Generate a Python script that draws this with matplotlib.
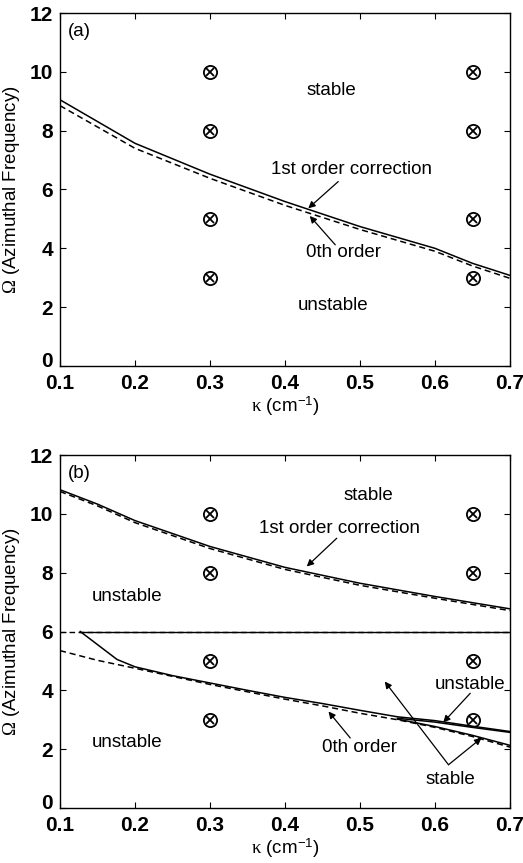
import matplotlib
matplotlib.use("Agg")
import matplotlib.pyplot as plt
import matplotlib.transforms as mtransforms

plt.rcParams['font.family'] = ['Liberation Sans', 'DejaVu Sans']
plt.rcParams['mathtext.fontset'] = 'custom'
plt.rcParams['mathtext.rm'] = 'Liberation Serif'
plt.rcParams['mathtext.it'] = 'Liberation Serif'
plt.rcParams['mathtext.sf'] = 'Liberation Sans'
plt.rcParams['mathtext.bf'] = 'Liberation Sans:bold'

# ---- data: panel (a) ----
xa = [0.1, 0.2, 0.3, 0.4, 0.5, 0.6, 0.65, 0.7]
a_first = [9.05, 7.57, 6.52, 5.59, 4.74, 4.0, 3.49, 3.08]
a_zeroth = [8.85, 7.4, 6.38, 5.46, 4.64, 3.9, 3.4, 2.98]

# ---- data: panel (b) ----
xb_up = [0.1, 0.15, 0.2, 0.3, 0.4, 0.5, 0.6, 0.7]
b_first_up = [10.82, 10.33, 9.77, 8.89, 8.18, 7.64, 7.19, 6.77]
b_zeroth_up = [10.76, 10.27, 9.70, 8.82, 8.11, 7.57, 7.13, 6.71]

xb_lo1 = [0.127, 0.176, 0.2, 0.25, 0.3, 0.35, 0.4, 0.45, 0.5, 0.55, 0.6, 0.65, 0.7]
b_first_lo = [6.0, 5.05, 4.8, 4.5, 4.25, 4.0, 3.76, 3.55, 3.32, 3.1, 2.97, 2.78, 2.6]
xb_lo1b = [0.55, 0.6, 0.65, 0.7]
b_first_lo_b = [3.05, 2.92, 2.74, 2.57]
xb_lo1c = [0.55, 0.6, 0.65, 0.7]
b_first_lo_c = [3.02, 2.77, 2.47, 2.13]

xb_lo0 = [0.1, 0.15, 0.2, 0.3, 0.4, 0.45, 0.5, 0.55, 0.6, 0.65, 0.7]
b_zeroth_lo = [5.35, 5.02, 4.75, 4.2, 3.7, 3.47, 3.22, 3.0, 2.74, 2.43, 2.07]

b_const_x = [0.1, 0.7]
b_const_y = [6.0, 6.0]
b_const_solid_x = [0.127, 0.7]

# ---- sample points (⊗) ----
pts_x = [0.3, 0.3, 0.3, 0.3, 0.65, 0.65, 0.65, 0.65]
pts_y = [10, 8, 5, 3, 10, 8, 5, 3]

xticks = [0.1, 0.2, 0.3, 0.4, 0.5, 0.6, 0.7]
xticklabels = ['0.1', '0.2', '0.3', '0.4', '0.5', '0.6', '0.7']
yticks = [0, 2, 4, 6, 8, 10, 12]

fig = plt.figure(figsize=(5.23, 8.63), dpi=100)
axA = fig.add_axes([60/523, 1-366/863, 450/523, 353/863])
axB = fig.add_axes([60/523, 1-808/863, 450/523, 353/863])

ARW = dict(arrowstyle='-|>', lw=0.9, color='k', mutation_scale=10, shrinkA=0, shrinkB=0)
TXT = dict(fontsize=13.5, ha='center', va='center')


def style(ax):
    ax.set_xlim(0.1, 0.7)
    ax.set_ylim(0, 12)
    ax.set_xticks(xticks)
    ax.set_xticklabels(xticklabels)
    ax.set_yticks(yticks)
    ax.tick_params(direction='in', top=True, right=True, length=4, width=0.8,
                   labelsize=15)
    ax.tick_params(axis='x', pad=6)
    ax.tick_params(axis='y', pad=5)
    for lab in ax.get_xticklabels() + ax.get_yticklabels():
        lab.set_fontweight('bold')
    # lift the "0" y tick label a little so it does not collide with "0.1"
    off = mtransforms.ScaledTranslation(0, 5/72, fig.dpi_scale_trans)
    lab0 = ax.get_yticklabels()[0]
    lab0.set_transform(lab0.get_transform() + off)
    for s in ax.spines.values():
        s.set_linewidth(1.0)
    ax.set_xlabel(r'$\kappa$ (cm$^{\mathsf{-1}}$)', fontsize=13.5, va='center')
    ax.xaxis.set_label_coords(0.5, -0.113)
    ax.set_ylabel(r'$\Omega$ (Azimuthal Frequency)', fontsize=13.5, va='center')
    ax.yaxis.set_label_coords(-0.107, 0.5)
    ax.plot(pts_x, pts_y, 'o', mfc='none', mec='k', ms=9.5, mew=1.3, clip_on=False)
    ax.plot(pts_x, pts_y, 'x', color='k', ms=5.5, mew=1.3)


# Panel (a)
axA.plot(xa, a_first, '-', color='k', lw=1.1)
axA.plot(xa, a_zeroth, '--', color='k', lw=1.1, dashes=(4, 2.5))
style(axA)
axA.text(0.111, 11.37, '(a)', fontsize=13.5, ha='left', va='center')
axA.text(0.462, 9.36, 'stable', **TXT)
axA.text(0.489, 6.69, '1st order correction', **TXT)
axA.text(0.478, 3.85, '0th order', **TXT)
axA.text(0.464, 2.07, 'unstable', **TXT)
axA.annotate('', xy=(0.431, 5.36), xytext=(0.471, 6.27), arrowprops=ARW)
axA.annotate('', xy=(0.433, 5.10), xytext=(0.467, 4.12), arrowprops=ARW)

# Panel (b)
axB.plot(xb_up, b_first_up, '-', color='k', lw=1.1)
axB.plot(xb_up, b_zeroth_up, '--', color='k', lw=1.1, dashes=(4, 2.5))
axB.plot(b_const_x, b_const_y, '--', color='k', lw=1.0, dashes=(4, 2.5))
axB.plot(b_const_solid_x, b_const_y, '-', color='k', lw=1.0)
axB.plot(xb_lo1, b_first_lo, '-', color='k', lw=1.1)
axB.plot(xb_lo1b, b_first_lo_b, '-', color='k', lw=1.1)
axB.plot(xb_lo1c, b_first_lo_c, '-', color='k', lw=1.1)
axB.plot(xb_lo0, b_zeroth_lo, '--', color='k', lw=1.1, dashes=(4, 2.5))
style(axB)
axB.text(0.111, 11.38, '(b)', fontsize=13.5, ha='left', va='center')
axB.text(0.511, 10.64, 'stable', **TXT)
axB.text(0.473, 9.51, '1st order correction', **TXT)
axB.text(0.19, 7.19, 'unstable', **TXT)
axB.text(0.19, 2.21, 'unstable', **TXT)
axB.text(0.499, 2.04, '0th order', **TXT)
axB.text(0.647, 4.19, 'unstable', **TXT)
axB.text(0.62, 0.96, 'stable', **TXT)
axB.annotate('', xy=(0.429, 8.21), xytext=(0.469, 9.17), arrowprops=ARW)
axB.annotate('', xy=(0.458, 3.28), xytext=(0.487, 2.38), arrowprops=ARW)
axB.annotate('', xy=(0.611, 2.91), xytext=(0.647, 3.9), arrowprops=ARW)
axB.annotate('', xy=(0.533, 4.3), xytext=(0.618, 1.47), arrowprops=ARW)
axB.annotate('', xy=(0.662, 2.38), xytext=(0.618, 1.47), arrowprops=ARW)

fig.savefig('out.png', dpi=100)
